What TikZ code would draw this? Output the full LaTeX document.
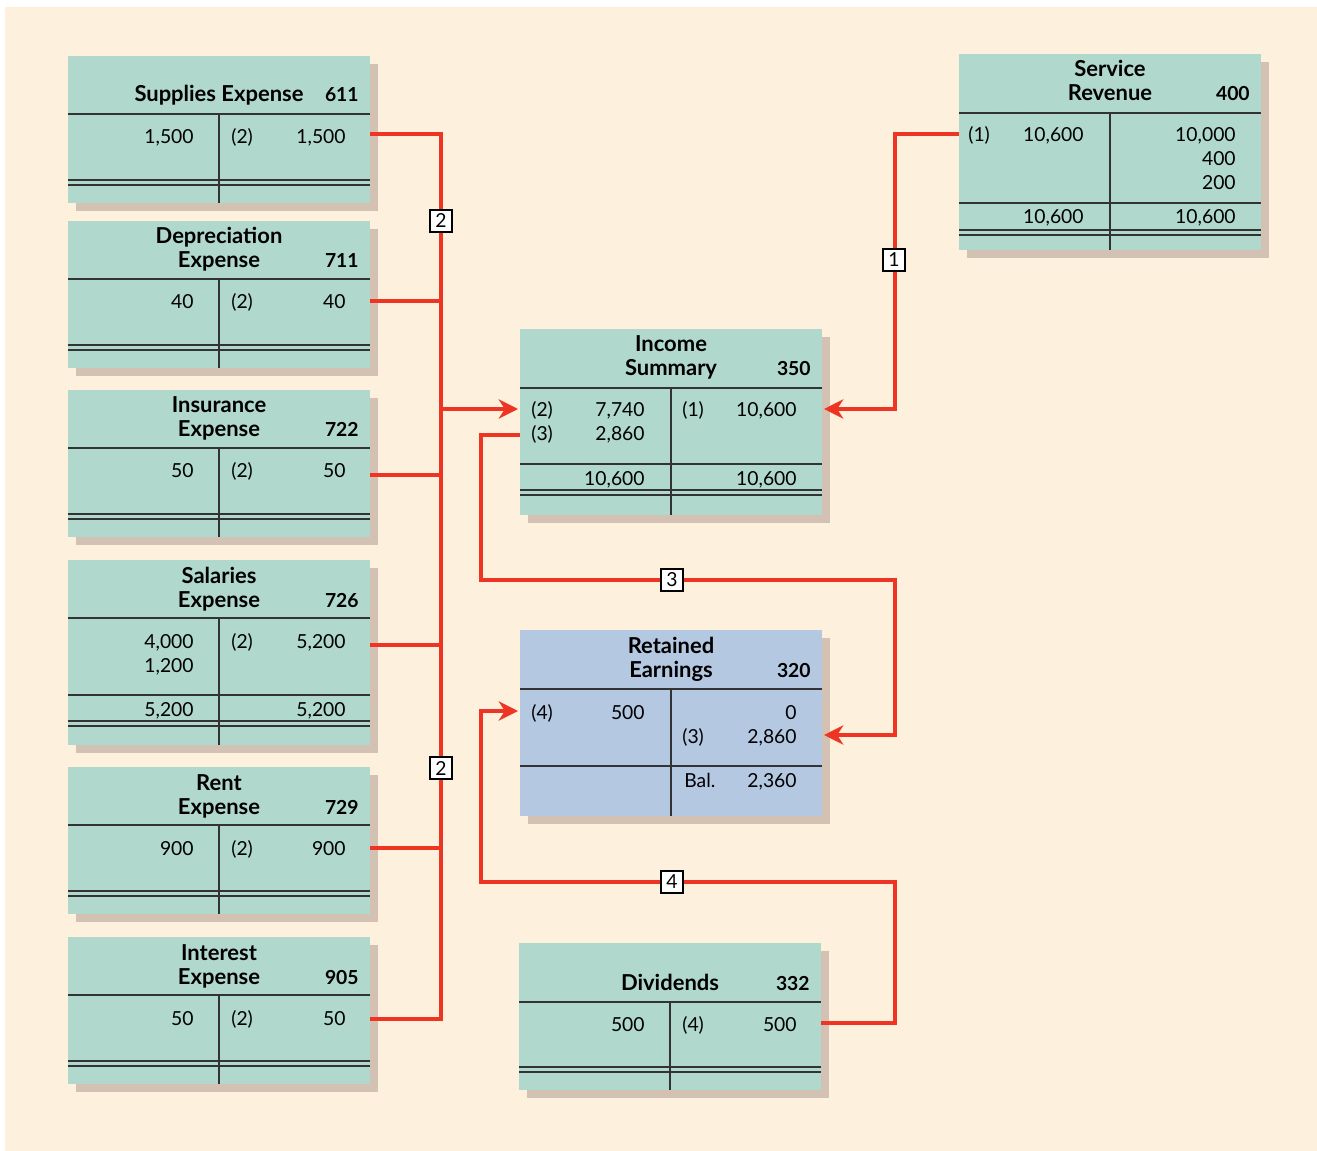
\documentclass[tikz,border=0pt]{standalone}
\usepackage{fontspec}
\setmainfont{Lato}
\usetikzlibrary{arrows.meta,shadows}

\definecolor{cream}{HTML}{FDF0DC}
\definecolor{acctgreen}{HTML}{B0D8CC}
\definecolor{acctblue}{HTML}{B4C8E2}
\definecolor{shadowtan}{HTML}{D3C1B3}
\definecolor{flowred}{HTML}{EE3524}
\definecolor{ruleink}{HTML}{333333}

\begin{document}
\begin{tikzpicture}[
    x=0.02cm, y=-0.02cm,
    font=\fontsize{11}{13}\selectfont,
    % account boxes
    acct/.style={anchor=north west, fill=acctgreen, inner sep=0pt, minimum width=6.04cm,
        drop shadow={shadow xshift=0.16cm, shadow yshift=-0.16cm, fill=shadowtan, opacity=1}},
    acctre/.style={acct, fill=acctblue},
    rule/.style={draw=ruleink, line width=0.8pt},
    % texts
    ttl/.style={anchor=base, inner sep=0pt, font=\fontsize{12.5}{14}\selectfont\bfseries},
    accno/.style={anchor=base east, inner sep=0pt, font=\fontsize{11}{13}\selectfont\bfseries},
    amt/.style={anchor=base east, inner sep=0pt},
    ref/.style={anchor=base west, inner sep=0pt},
    % closing flows
    conn/.style={draw=flowred, line width=2.6pt},
    flow/.style={conn, -{Stealth[length=11pt, width=11pt, inset=3.5pt]}},
    tag/.style={draw=black, fill=white, line width=0.6pt, inner sep=0pt,
        minimum size=0.44cm, font=\fontsize{11}{13}\selectfont},
]

\useasboundingbox (0,0) rectangle (1317,1151);
\fill[white] (0,0) rectangle (1317,1151);
\fill[cream] (5,7) rectangle (1317,1151);

% =========================================================
% Left column: expense accounts
% =========================================================
\begin{scope}[shift={(68,56)}]
\node[acct, minimum height=2.94cm] (sup) at (0,0) {};
\draw[rule] (0,58) -- (302,58);
\draw[rule] (151,58) -- (151,147);
\draw[rule] (0,124) -- (302,124) (0,129) -- (302,129);
\node[ttl]   (supT)   at (151,46) {Supplies Expense};
\node[accno] (supN)   at (291,46) {611};
\node[amt]   (supDr)  at (126,88) {1,500};
\node[ref]   (supRef) at (163,88) {(2)};
\node[amt]   (supCr)  at (278,88) {1,500};
\coordinate (supOut) at (302,78);
\end{scope}

\begin{scope}[shift={(68,221)}]
\node[acct, minimum height=2.94cm] (dep) at (0,0) {};
\draw[rule] (0,58) -- (302,58);
\draw[rule] (151,58) -- (151,147);
\draw[rule] (0,124) -- (302,124) (0,129) -- (302,129);
\node[ttl]   (depT1)  at (151,23) {Depreciation};
\node[ttl]   (depT2)  at (151,47) {Expense};
\node[accno] (depN)   at (291,47) {711};
\node[amt]   (depDr)  at (126,88) {40};
\node[ref]   (depRef) at (163,88) {(2)};
\node[amt]   (depCr)  at (278,88) {40};
\coordinate (depOut) at (302,80);
\end{scope}

\begin{scope}[shift={(68,390)}]
\node[acct, minimum height=2.94cm] (ins) at (0,0) {};
\draw[rule] (0,58) -- (302,58);
\draw[rule] (151,58) -- (151,147);
\draw[rule] (0,124) -- (302,124) (0,129) -- (302,129);
\node[ttl]   (insT1)  at (151,23) {Insurance};
\node[ttl]   (insT2)  at (151,47) {Expense};
\node[accno] (insN)   at (291,47) {722};
\node[amt]   (insDr)  at (126,88) {50};
\node[ref]   (insRef) at (163,88) {(2)};
\node[amt]   (insCr)  at (278,88) {50};
\coordinate (insOut) at (302,85);
\end{scope}

\begin{scope}[shift={(68,560)}]
\node[acct, minimum height=3.7cm] (sal) at (0,0) {};
\draw[rule] (0,58) -- (302,58);
\draw[rule] (151,58) -- (151,185);
\draw[rule] (0,135) -- (302,135);
\draw[rule] (0,161) -- (302,161) (0,166) -- (302,166);
\node[ttl]   (salT1)  at (151,23) {Salaries};
\node[ttl]   (salT2)  at (151,47) {Expense};
\node[accno] (salN)   at (291,47) {726};
\node[amt]   (salDr1) at (126,88) {4,000};
\node[amt]   (salDr2) at (126,112) {1,200};
\node[ref]   (salRef) at (163,88) {(2)};
\node[amt]   (salCr)  at (278,88) {5,200};
\node[amt]   (salDrT) at (126,156) {5,200};
\node[amt]   (salCrT) at (278,156) {5,200};
\coordinate (salOut) at (302,85);
\end{scope}

\begin{scope}[shift={(68,767)}]
\node[acct, minimum height=2.94cm] (rent) at (0,0) {};
\draw[rule] (0,58) -- (302,58);
\draw[rule] (151,58) -- (151,147);
\draw[rule] (0,124) -- (302,124) (0,129) -- (302,129);
\node[ttl]   (rentT1)  at (151,23) {Rent};
\node[ttl]   (rentT2)  at (151,47) {Expense};
\node[accno] (rentN)   at (291,47) {729};
\node[amt]   (rentDr)  at (126,88) {900};
\node[ref]   (rentRef) at (163,88) {(2)};
\node[amt]   (rentCr)  at (278,88) {900};
\coordinate (rentOut) at (302,81);
\end{scope}

\begin{scope}[shift={(68,937)}]
\node[acct, minimum height=2.94cm] (int) at (0,0) {};
\draw[rule] (0,58) -- (302,58);
\draw[rule] (151,58) -- (151,147);
\draw[rule] (0,124) -- (302,124) (0,129) -- (302,129);
\node[ttl]   (intT1)  at (151,23) {Interest};
\node[ttl]   (intT2)  at (151,47) {Expense};
\node[accno] (intN)   at (291,47) {905};
\node[amt]   (intDr)  at (126,88) {50};
\node[ref]   (intRef) at (163,88) {(2)};
\node[amt]   (intCr)  at (278,88) {50};
\coordinate (intOut) at (302,82);
\end{scope}

% =========================================================
% Middle column: income summary, retained earnings, dividends
% =========================================================
\begin{scope}[shift={(520,329)}]
\node[acct, minimum height=3.72cm] (is) at (0,0) {};
\draw[rule] (0,59) -- (302,59);
\draw[rule] (151,59) -- (151,186);
\draw[rule] (0,135) -- (302,135);
\draw[rule] (0,161) -- (302,161) (0,166) -- (302,166);
\node[ttl]   (isT1)   at (151,23) {Income};
\node[ttl]   (isT2)   at (151,47) {Summary};
\node[accno] (isN)    at (291,47) {350};
\node[ref]   (isRef2) at (11,88) {(2)};
\node[amt]   (isDr2)  at (125,88) {7,740};
\node[ref]   (isRef3) at (11,112) {(3)};
\node[amt]   (isDr3)  at (125,112) {2,860};
\node[ref]   (isRef1) at (162,88) {(1)};
\node[amt]   (isCr1)  at (277,88) {10,600};
\node[amt]   (isDrT)  at (125,156) {10,600};
\node[amt]   (isCrT)  at (277,156) {10,600};
\coordinate (isIn2)  at (-2,80);
\coordinate (isOut3) at (0,106);
\coordinate (isIn1)  at (304,80);
\end{scope}

\begin{scope}[shift={(520,630)}]
\node[acctre, minimum height=3.72cm] (re) at (0,0) {};
\draw[rule] (0,59) -- (302,59);
\draw[rule] (151,59) -- (151,186);
\draw[rule] (0,136) -- (302,136);
\node[ttl]   (reT1)   at (151,23) {Retained};
\node[ttl]   (reT2)   at (151,47) {Earnings};
\node[accno] (reN)    at (291,47) {320};
\node[ref]   (reRef4) at (11,89) {(4)};
\node[amt]   (reDr4)  at (125,89) {500};
\node[amt]   (reCr0)  at (277,89) {0};
\node[ref]   (reRef3) at (162,113) {(3)};
\node[amt]   (reCr3)  at (277,113) {2,860};
\node[ref]   (reBalL) at (164,157) {Bal.};
\node[amt]   (reBal)  at (277,157) {2,360};
\coordinate (reIn4) at (-2,81);
\coordinate (reIn3) at (304,105);
\end{scope}

\begin{scope}[shift={(519,943)}]
\node[acct, minimum height=2.94cm] (dv) at (0,0) {};
\draw[rule] (0,59) -- (302,59);
\draw[rule] (151,59) -- (151,147);
\draw[rule] (0,124) -- (302,124) (0,129) -- (302,129);
\node[ttl]   (dvT)   at (151,47) {Dividends};
\node[accno] (dvN)   at (291,47) {332};
\node[amt]   (dvDr)  at (126,88) {500};
\node[ref]   (dvRef) at (163,88) {(4)};
\node[amt]   (dvCr)  at (278,88) {500};
\coordinate (dvOut) at (302,80);
\end{scope}

% =========================================================
% Right column: service revenue
% =========================================================
\begin{scope}[shift={(959,54)}]
\node[acct, minimum height=3.92cm] (sr) at (0,0) {};
\draw[rule] (0,59) -- (302,59);
\draw[rule] (151,59) -- (151,196);
\draw[rule] (0,149) -- (302,149);
\draw[rule] (0,176) -- (302,176) (0,181) -- (302,181);
\node[ttl]   (srT1)  at (151,23) {Service};
\node[ttl]   (srT2)  at (151,47) {Revenue};
\node[accno] (srN)   at (291,47) {400};
\node[ref]   (srRef) at (9,88) {(1)};
\node[amt]   (srDr)  at (125,88) {10,600};
\node[amt]   (srCr1) at (277,88) {10,000};
\node[amt]   (srCr2) at (277,112) {400};
\node[amt]   (srCr3) at (277,136) {200};
\node[amt]   (srDrT) at (125,170) {10,600};
\node[amt]   (srCrT) at (277,170) {10,600};
\coordinate (srOut) at (0,80);
\end{scope}

% =========================================================
% Closing entries
% =========================================================
\coordinate (busX)  at (441,0);
\coordinate (laneL) at (481,0);
\coordinate (laneR) at (895,0);
\coordinate (row3)  at (0,580);
\coordinate (row4)  at (0,882);

% (1) revenue to income summary
\draw[flow] (srOut) -- (srOut -| laneR) |- (isIn1);

% (2) expenses to income summary
\draw[conn] (supOut) -| (busX |- intOut) -- (intOut);
\draw[conn] (depOut) -- (depOut -| busX);
\draw[conn] (insOut) -- (insOut -| busX);
\draw[conn] (salOut) -- (salOut -| busX);
\draw[conn] (rentOut) -- (rentOut -| busX);
\draw[flow] (busX |- isIn2) -- (isIn2);

% (3) net income to retained earnings
\draw[flow] (isOut3) -| (laneL |- row3) -- (laneR |- row3) |- (reIn3);

% (4) dividends to retained earnings
\draw[flow] (dvOut) -| (laneR |- row4) -- (laneL |- row4) |- (reIn4);

% entry numbers
\node[tag] (t1)  at (894,260) {1};
\node[tag] (t2a) at (441,221) {2};
\node[tag] (t2b) at (441,768) {2};
\node[tag] (t3)  at (672,580) {3};
\node[tag] (t4)  at (672,882) {4};

\end{tikzpicture}
\end{document}
